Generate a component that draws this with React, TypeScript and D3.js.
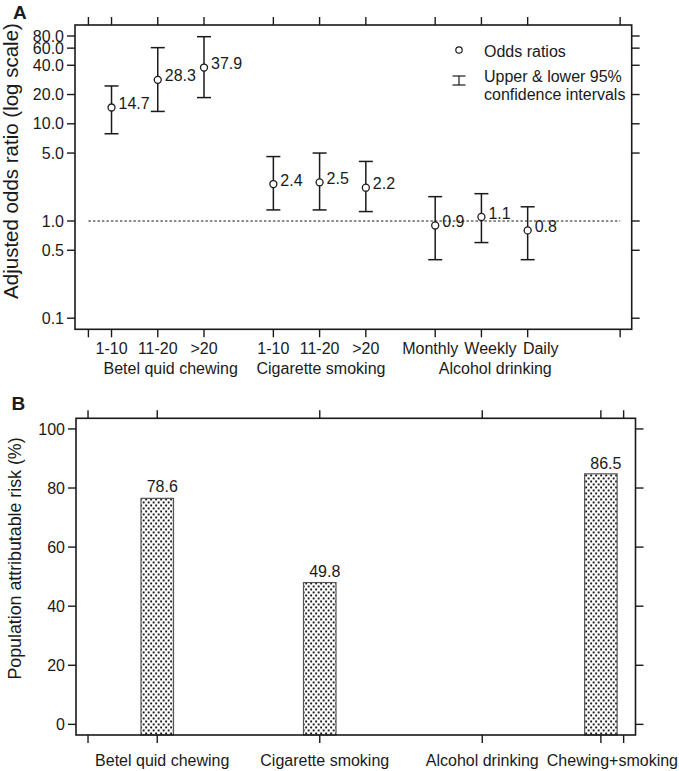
import React from "react";
import * as d3 from "d3";

// ---------- Panel A data ----------
const exposureLevels = ["1-10", "11-20", ">20", "1-10", "11-20", ">20", "Monthly", "Weekly", "Daily"];
const exposurePos = [1, 2, 3, 4.5, 5.5, 6.5, 8, 9, 10];
const oddsRatios = [14.7, 28.3, 37.9, 2.4, 2.5, 2.2, 0.9, 1.1, 0.8];
const ciLower = [7.9, 13.4, 18.6, 1.3, 1.3, 1.25, 0.4, 0.6, 0.4];
const ciUpper = [24.5, 60.7, 78.7, 4.6, 5.0, 4.1, 1.78, 1.91, 1.4];
const orLabels = ["14.7", "28.3", "37.9", "2.4", "2.5", "2.2", "0.9", "1.1", "0.8"];
const groupNames = ["Betel quid chewing", "Cigarette smoking", "Alcohol drinking"];
const groupLabelPos = [2.28, 5.53, 9.3];
const extraTicksA = [0.5, 12];
const yTicksA = [0.1, 0.5, 1, 5, 10, 20, 40, 60, 80];

// ---------- Panel B data ----------
const parCategories = ["Betel quid chewing", "Cigarette smoking", "Alcohol drinking", "Chewing+smoking"];
const parPos = [1, 2, 3, 3.73];
const parBarHeights = [76.5, 48.0, null, 84.8];
const parLabelValues = [78.6, 49.8, null, 86.5];
const extraTicksB = [0.574, 3.87];
const yTicksB = [0, 20, 40, 60, 80, 100];

// label nudges (px) so texts sit as in the original layout
const levelLabelNudge = [0, 0, 0, 0, 0, 0, -5, 9, 13];
const parLabelNudge = [5, 5, 0, 0];

const W = 679;
const H = 771;
const FONT = "'Liberation Sans', Arial, Helvetica, sans-serif";
const INK = "#1a1a1a";

export default function App() {
  // Panel A scales
  const xA = d3.scaleLinear().domain([0.21, 12.25]).range([75, 631.7]);
  const yA = d3.scaleLog().domain([0.0769, 103.8]).range([329.3, 25]);
  const fmtA = d3.format(".1f");
  const ticksXA = [...extraTicksA, ...exposurePos].sort((a, b) => a - b);

  // Panel B scales
  const xB = d3.scaleLinear().domain([0.5, 3.943]).range([76, 635.5]);
  const yB = d3.scaleLinear().domain([-3.6, 103.6]).range([735, 418.3]);
  const ticksXB = [...extraTicksB, ...parPos].sort((a, b) => a - b);
  const barW = xB(1.2) - xB(1);

  const [ax0, ax1] = xA.range();
  const [ay0, ay1] = yA.range();
  const [bx0, bx1] = xB.range();
  const [by0, by1] = yB.range();
  const tl = 8;
  const cap = 7;

  return (
    <svg
      width={W}
      height={H}
      style={{ position: "absolute", left: 0, top: 0, background: "#fff" }}
      fontFamily={FONT}
    >
      <defs>
        <pattern id="stipple" width="5" height="6" patternUnits="userSpaceOnUse">
          <rect width="5" height="6" fill="#fff" />
          <rect x="0.2" y="0.5" width="1.9" height="1.9" fill="#151515" />
          <rect x="2.7" y="3.5" width="1.9" height="1.9" fill="#151515" />
        </pattern>
      </defs>

      {/* ================= Panel A ================= */}
      <text x={13} y={18.5} fontSize={19} fontWeight="bold" fill={INK}>A</text>
      <text
        transform={`translate(17.5,161) rotate(-90)`}
        textAnchor="middle"
        fontSize={20.5}
        fill={INK}
      >
        Adjusted odds ratio (log scale)
      </text>

      {/* reference line at 1 */}
      <line
        x1={xA(0.5)}
        x2={xA(12)}
        y1={yA(1)}
        y2={yA(1)}
        stroke={INK}
        strokeWidth={1.2}
        strokeDasharray="2.5,2"
      />

      {/* axes frame */}
      <rect x={ax0} y={ay1} width={ax1 - ax0} height={ay0 - ay1} fill="none" stroke={INK} strokeWidth={1.6} />

      {yTicksA.map((t) => (
        <g key={"ya" + t}>
          <line x1={ax0 - tl} x2={ax0} y1={yA(t)} y2={yA(t)} stroke={INK} strokeWidth={1.4} />
          <line x1={ax1} x2={ax1 + tl} y1={yA(t)} y2={yA(t)} stroke={INK} strokeWidth={1.4} />
          <text x={ax0 - tl - 3} y={yA(t)} dy="0.35em" textAnchor="end" fontSize={16} fill={INK}>
            {fmtA(t)}
          </text>
        </g>
      ))}

      {ticksXA.map((t) => (
        <g key={"xa" + t}>
          <line x1={xA(t)} x2={xA(t)} y1={ay0} y2={ay0 + tl} stroke={INK} strokeWidth={1.4} />
          <line x1={xA(t)} x2={xA(t)} y1={ay1} y2={ay1 - tl} stroke={INK} strokeWidth={1.4} />
        </g>
      ))}

      {exposureLevels.map((lab, i) => (
        <text
          key={"el" + i}
          x={xA(exposurePos[i]) + levelLabelNudge[i]}
          y={353.5}
          textAnchor="middle"
          fontSize={16}
          fill={INK}
        >
          {lab}
        </text>
      ))}
      {groupNames.map((g, i) => (
        <text key={"gn" + i} x={xA(groupLabelPos[i])} y={374} textAnchor="middle" fontSize={16} fill={INK}>
          {g}
        </text>
      ))}

      {/* error bars + points */}
      {oddsRatios.map((v, i) => {
        const cx = xA(exposurePos[i]);
        return (
          <g key={"or" + i}>
            <line x1={cx} x2={cx} y1={yA(ciLower[i])} y2={yA(ciUpper[i])} stroke={INK} strokeWidth={1.5} />
            <line x1={cx - cap} x2={cx + cap} y1={yA(ciLower[i])} y2={yA(ciLower[i])} stroke={INK} strokeWidth={1.5} />
            <line x1={cx - cap} x2={cx + cap} y1={yA(ciUpper[i])} y2={yA(ciUpper[i])} stroke={INK} strokeWidth={1.5} />
            <circle cx={cx} cy={yA(v)} r={3.5} fill="#fff" stroke={INK} strokeWidth={1.3} />
            <text x={cx + 7} y={yA(v) - 4} dy="0.35em" fontSize={16} fill={INK}>
              {orLabels[i]}
            </text>
          </g>
        );
      })}

      {/* legend */}
      <circle cx={459} cy={50} r={3.2} fill="#fff" stroke={INK} strokeWidth={1.2} />
      <text x={484} y={51} dy="0.35em" fontSize={16} fill={INK}>Odds ratios</text>
      <line x1={459} x2={459} y1={76} y2={85} stroke={INK} strokeWidth={1.2} />
      <line x1={452.5} x2={465.5} y1={76} y2={76} stroke={INK} strokeWidth={1.2} />
      <line x1={452.5} x2={465.5} y1={85} y2={85} stroke={INK} strokeWidth={1.2} />
      <text x={484} y={76} dy="0.35em" fontSize={16} fill={INK}>Upper &amp; lower 95%</text>
      <text x={484} y={94.5} dy="0.35em" fontSize={16} fill={INK}>confidence intervals</text>

      {/* ================= Panel B ================= */}
      <text x={11.5} y={410} fontSize={19} fontWeight="bold" fill={INK}>B</text>
      <text
        transform={`translate(20.5,558.5) rotate(-90)`}
        textAnchor="middle"
        fontSize={17.8}
        fill={INK}
      >
        Population attributable risk (%)
      </text>

      {parBarHeights.map((h, i) =>
        h == null ? null : (
          <rect
            key={"bar" + i}
            x={xB(parPos[i]) - barW / 2}
            y={yB(h)}
            width={barW}
            height={by0 - yB(h)}
            fill="url(#stipple)"
            stroke="#555"
            strokeWidth={1.2}
          />
        )
      )}
      {parLabelValues.map((v, i) =>
        v == null ? null : (
          <text key={"pl" + i} x={xB(parPos[i]) + 5} y={yB(v)} textAnchor="middle" fontSize={16} fill={INK}>
            {d3.format(".1f")(v)}
          </text>
        )
      )}

      <rect x={bx0} y={by1} width={bx1 - bx0} height={by0 - by1} fill="none" stroke={INK} strokeWidth={1.6} />

      {yTicksB.map((t) => (
        <g key={"yb" + t}>
          <line x1={bx0 - tl} x2={bx0} y1={yB(t)} y2={yB(t)} stroke={INK} strokeWidth={1.4} />
          <line x1={bx1} x2={bx1 + tl} y1={yB(t)} y2={yB(t)} stroke={INK} strokeWidth={1.4} />
          <text x={bx0 - tl - 3} y={yB(t)} dy="0.35em" textAnchor="end" fontSize={16} fill={INK}>
            {t}
          </text>
        </g>
      ))}
      {ticksXB.map((t) => (
        <g key={"xb" + t}>
          <line x1={xB(t)} x2={xB(t)} y1={by0} y2={by0 + tl} stroke={INK} strokeWidth={1.4} />
          <line x1={xB(t)} x2={xB(t)} y1={by1} y2={by1 - tl} stroke={INK} strokeWidth={1.4} />
        </g>
      ))}
      {parCategories.map((c, i) => {
        const last = i === parCategories.length - 1;
        return (
          <text
            key={"pc" + i}
            x={last ? W - 1 : xB(parPos[i]) + parLabelNudge[i]}
            y={766}
            textAnchor={last ? "end" : "middle"}
            fontSize={16}
            fill={INK}
          >
            {c}
          </text>
        );
      })}
    </svg>
  );
}
